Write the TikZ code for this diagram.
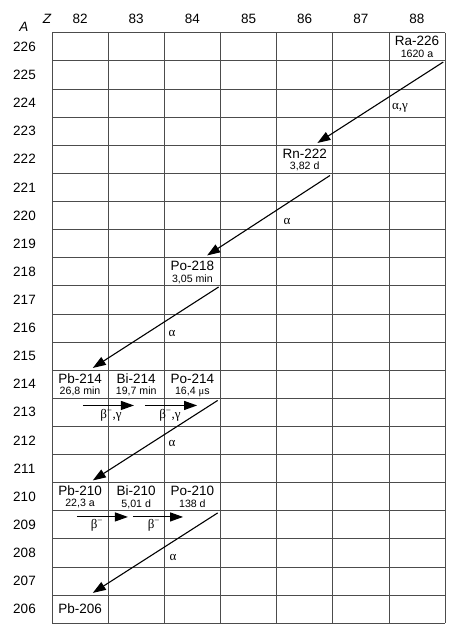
\documentclass[tikz,border=0pt]{standalone}
\usepackage{fontspec}
\setmainfont{Liberation Sans}
\newfontfamily\grk{Liberation Serif}
\usetikzlibrary{arrows.meta}
\begin{document}
\begin{tikzpicture}[x=1pt,y=-1pt,
  gridline/.style={draw=black!70,line width=0.8pt},
  cellbox/.style={minimum width=56.15pt,minimum height=28.12pt,inner sep=0pt,draw=none},
  nuc/.style={font=\fontsize{13.5}{14}\selectfont,inner sep=0pt},
  hl/.style={font=\fontsize{10.6}{11}\selectfont,inner sep=0pt},
  axnum/.style={font=\fontsize{13.5}{14}\selectfont,inner sep=0pt},
  decay/.style={draw=black,line width=1.1pt,-{Triangle[length=13pt,width=9pt]}},
  betaarr/.style={draw=black,line width=1.1pt,-{Triangle[length=13pt,width=9pt]}},
  glabel/.style={font=\grk\fontsize{13}{14}\selectfont,inner sep=0pt}]
\useasboundingbox (0,0) rectangle (458,637);
% grid
\foreach \i in {0,...,7} \draw[gridline] ({52+\i*56.15},32.7) -- ({52+\i*56.15},623.3);
\foreach \j in {0,...,21} \draw[gridline] (52,{32.7+\j*28.12}) -- (445,{32.7+\j*28.12});
% axis labels
\node[axnum,font=\itshape\fontsize{13.5}{14}\selectfont] (alab) at (24,27) {A};
\node[axnum,font=\itshape\fontsize{13.5}{14}\selectfont] (zlab) at (47,19) {Z};
\foreach \z [count=\i from 0] in {82,...,88}
  \node[axnum] (z\z) at ({52+(\i+0.5)*56.15},19) {\z};
\foreach \a [count=\j from 0] in {226,225,...,206}
  \node[axnum] (a\a) at (24.5,{32.7+(\j+0.5)*28.12}) {\a};
% cells
\newcommand{\cellat}[3]{\node[cellbox] (#1) at ({52+(#2+0.5)*56.15},{32.7+(#3+0.5)*28.12}) {};}
\cellat{ra226}{6}{0}
\cellat{rn222}{4}{4}
\cellat{po218}{2}{8}
\cellat{pb214}{0}{12}
\cellat{bi214}{1}{12}
\cellat{po214}{2}{12}
\cellat{pb210}{0}{16}
\cellat{bi210}{1}{16}
\cellat{po210}{2}{16}
\cellat{pb206}{0}{20}
% names and half-lives
\newcommand{\nuclide}[3]{%
  \node[nuc] (#1n) at ([yshift=-8.5pt]#1.north) {#2};
  \node[hl] (#1h) at ([yshift=-21.5pt]#1.north) {#3};}
\nuclide{ra226}{Ra-226}{1620 a}
\nuclide{rn222}{Rn-222}{3,82 d}
\nuclide{po218}{Po-218}{3,05 min}
\nuclide{pb214}{Pb-214}{26,8 min}
\nuclide{bi214}{Bi-214}{19,7 min}
\nuclide{po214}{Po-214}{16,4 {\grk μ}s}
\nuclide{pb210}{Pb-210}{22,3 a}
\nuclide{bi210}{Bi-210}{5,01 d}
\nuclide{po210}{Po-210}{138 d}
\node[nuc] (pb206n) at (pb206) {Pb-206};
% alpha decays
\draw[decay] ([xshift=-2pt,yshift=-1pt]ra226.south east) -- ([xshift=41pt,yshift=2pt]rn222.north west);
\draw[decay] ([xshift=-3pt,yshift=-2pt]rn222.south east) -- ([xshift=43pt,yshift=2pt]po218.north west);
\draw[decay] ([xshift=-2pt,yshift=-1pt]po218.south east) -- ([xshift=41pt,yshift=2pt]pb214.north west);
\draw[decay] ([xshift=-3pt,yshift=-2pt]po214.south east) -- ([xshift=41pt,yshift=2pt]pb210.north west);
\draw[decay] ([xshift=-3pt,yshift=-2pt]po210.south east) -- ([xshift=41pt,yshift=2pt]pb206.north west);
% beta decays
\draw[betaarr] ([xshift=31pt,yshift=-7pt]pb214.south west) -- ([xshift=26pt,yshift=-7pt]bi214.south west);
\draw[betaarr] ([xshift=37pt,yshift=-7pt]bi214.south west) -- ([xshift=33pt,yshift=-7pt]po214.south west);
\draw[betaarr] ([xshift=25pt,yshift=-6pt]pb210.south west) -- ([xshift=20pt,yshift=-6pt]bi210.south west);
\draw[betaarr] ([xshift=25pt,yshift=-6pt]bi210.south west) -- ([xshift=19pt,yshift=-6pt]po210.south west);
% decay labels
\node[glabel] (l1) at (400,108) {α,γ};
\node[glabel] (l2) at (287,221) {α};
\node[glabel] (l3) at (172,333) {α};
\node[glabel] (l4) at (172,443) {α};
\node[glabel] (l5) at (173,557) {α};
\node[glabel] (b1) at (111,415) {β\textsuperscript{−},γ};
\node[glabel] (b2) at (170,415) {β\textsuperscript{−},γ};
\node[glabel] (b3) at (97,525) {β\textsuperscript{−}};
\node[glabel] (b4) at (154,525) {β\textsuperscript{−}};
\end{tikzpicture}
\end{document}
